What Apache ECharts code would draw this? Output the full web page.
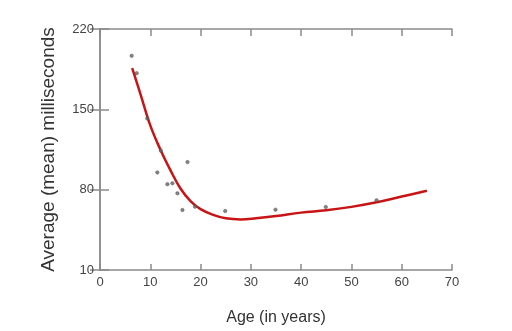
<!DOCTYPE html>
<html>
<head>
<meta charset="utf-8">
<script src="https://cdn.jsdelivr.net/npm/echarts@6/dist/echarts.min.js"></script>
<style>
  html, body { margin: 0; padding: 0; background: #fff; }
  #chart { width: 512px; height: 331px; }
</style>
</head>
<body>
<div id="chart"></div>
<script>
// 散点：年龄 / 平均毫秒
var pointAge = [6.3, 7.3, 9.4, 11.4, 12.1, 13.4, 14.4, 15.4, 16.4, 17.4, 18.9, 24.9, 34.9, 44.9, 55];
var pointMs  = [196.6, 181.5, 142, 95, 114, 84.8, 85.5, 76.8, 62.3, 104, 65.2, 61.4, 62.6, 64.9, 70.7];

// 拟合曲线
var curveAge = [6.4, 8, 10, 12, 14, 16, 18, 20, 22.5, 25, 28, 31, 35, 40, 45, 50, 55, 60, 65];
var curveMs  = [186, 164, 136, 115, 97, 81, 70, 63, 58, 55, 54, 55, 57, 60, 62, 65, 69, 74, 79];

var yTicks = [10, 80, 150, 220];

function pairs(xs, ys) {
    var out = [];
    for (var i = 0; i < xs.length; i++) out.push([xs[i], ys[i]]);
    return out;
}

var axisGray = '#8a8a8a';
var labelColor = '#444';

var option = {
    animation: false,
    grid: { left: 100, right: 60, top: 29, bottom: 60 },
    xAxis: [
        {
            type: 'value', min: 0, max: 70, interval: 10,
            name: 'Age (in years)', nameLocation: 'middle', nameGap: 40,
            nameTextStyle: { color: '#333', fontSize: 16, fontFamily: 'Liberation Sans' },
            axisLine: { show: true, lineStyle: { color: axisGray, width: 1.5 } },
            axisTick: { show: true, inside: true, length: 6, lineStyle: { color: axisGray, width: 1.5 } },
            axisLabel: { color: labelColor, fontSize: 13, fontFamily: 'Liberation Sans', margin: 6 },
            splitLine: { show: false }
        },
        {
            type: 'value', min: 0, max: 70, interval: 10, position: 'top',
            axisLine: { show: true, lineStyle: { color: axisGray, width: 1.5 } },
            axisTick: { show: true, inside: true, length: 7, lineStyle: { color: axisGray, width: 1.5 } },
            axisLabel: { show: false },
            splitLine: { show: false }
        }
    ],
    yAxis: [
        {
            type: 'value', min: 10, max: 220,
            name: 'Average (mean) milliseconds', nameLocation: 'middle', nameGap: 42,
            nameTextStyle: { color: '#333', fontSize: 19, fontFamily: 'Liberation Sans' },
            axisLine: { show: true, lineStyle: { color: axisGray, width: 1.5 } },
            axisTick: { show: true, inside: true, length: 9, customValues: yTicks, lineStyle: { color: axisGray, width: 1.5 } },
            axisLabel: { color: labelColor, fontSize: 13, fontFamily: 'Liberation Sans', margin: 6, customValues: yTicks },
            splitLine: { show: false }
        },
        {
            type: 'value', min: 10, max: 220, position: 'right',
            axisLine: { show: true, lineStyle: { color: axisGray, width: 1.5 } },
            axisTick: { show: true, inside: true, length: 10, customValues: yTicks, lineStyle: { color: axisGray, width: 1.5 } },
            axisLabel: { show: false },
            splitLine: { show: false }
        },
        {
            // 左轴外侧的短刻度
            type: 'value', min: 10, max: 220, position: 'left',
            axisLine: { show: false },
            axisTick: { show: true, inside: false, length: 5, customValues: yTicks, lineStyle: { color: axisGray, width: 1.5 } },
            axisLabel: { show: false },
            splitLine: { show: false }
        }
    ],
    series: [
        {
            type: 'line',
            data: pairs(curveAge, curveMs),
            smooth: 0.4,
            showSymbol: false,
            lineStyle: { color: '#c81414', width: 2.5 },
            z: 2
        },
        {
            type: 'scatter',
            data: pairs(pointAge, pointMs),
            symbolSize: 3.5,
            itemStyle: { color: '#666', borderColor: '#444', borderWidth: 0.5 },
            z: 3
        }
    ]
};

var chart = echarts.init(document.getElementById('chart'));
chart.setOption(option);
</script>
</body>
</html>
